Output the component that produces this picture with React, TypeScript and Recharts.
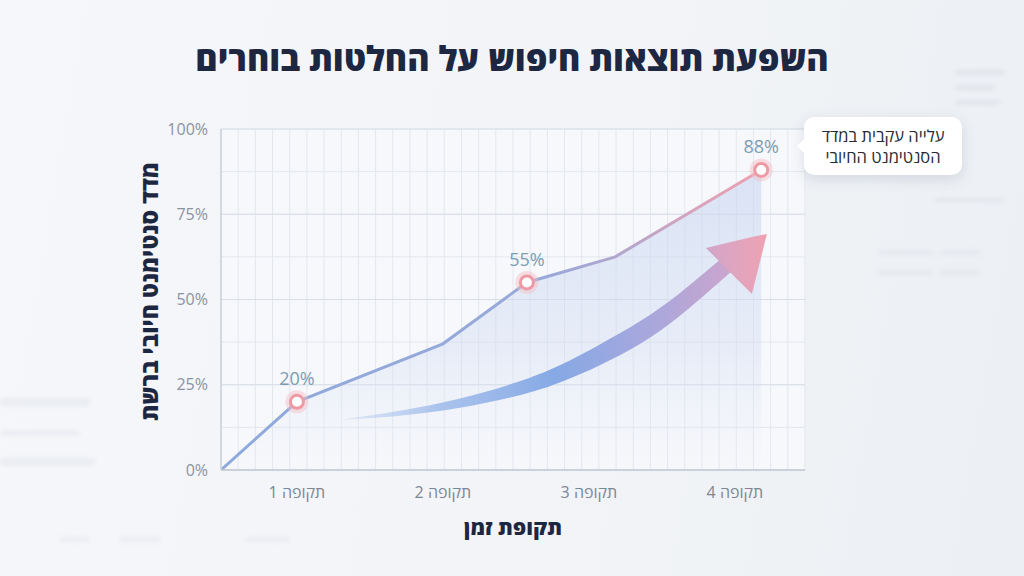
import React from 'react';
import { ComposedChart, Area, Scatter, XAxis, YAxis, CartesianGrid, LabelList, Label } from 'recharts';

// ---- data ----
const periodTicks = [1, 2, 3, 4];
const periodLabels = ['תקופה 1', 'תקופה 2', 'תקופה 3', 'תקופה 4'];
const yTicks = [0, 25, 50, 75, 100];
const minorYTicks = [0, 12.5, 25, 37.5, 50, 62.5, 75, 87.5, 100];

const trendX = [0.48, 1, 2, 2.575, 3.18, 4.18];
const trendY = [0, 20, 37, 55, 62.5, 88];

const highlightX = [1, 2.575, 4.18];
const highlightY = [20, 55, 88];

// decorative trend arrow (in chart units)
const arrowShaftX = [1.295, 1.705, 2.116, 2.527, 2.801, 3.075, 3.349, 3.623, 3.877, 3.973];
const arrowShaftLow = [14.7, 15.7, 18.0, 21.7, 25.4, 30.6, 36.5, 44.9, 54.5, 58.1];
const arrowShaftHigh = [14.7, 17.2, 20.7, 25.8, 30.4, 36.8, 43.3, 51.6, 61.0, 64.2];

const arrowHeadX = [3.801, 4.116, 4.219];
const arrowHeadLow = [65.1, 51.6, 69.2];
const arrowHeadHigh = [65.1, 68.3, 69.2];

const title = 'השפעת תוצאות חיפוש על החלטות בוחרים';
const yLabel = 'מדד סנטימנט חיובי ברשת';
const xLabel = 'תקופת זמן';
const calloutLines = ['עלייה עקבית במדד', 'הסנטימנט החיובי'];

const trendData = trendX.map((x, i) => ({ x, y: trendY[i] }));
const highlightData = highlightX.map((x, i) => ({ x, y: highlightY[i] }));
const shaftData = arrowShaftX.map((x, i) => ({ x, range: [arrowShaftLow[i], arrowShaftHigh[i]] }));
const headData = arrowHeadX.map((x, i) => ({ x, range: [arrowHeadLow[i], arrowHeadHigh[i]] }));

const FONT = '"Open Sans", "Liberation Sans", "DejaVu Sans", sans-serif';

const HighlightDot = (props: any) => {
  const { cx, cy } = props;
  if (cx == null || cy == null) return null;
  return (
    <g>
      <circle cx={cx} cy={cy} r={11.5} fill="#f4bcc4" opacity={0.45} />
      <circle cx={cx} cy={cy} r={6.5} fill="#ffffff" stroke="#ee9aa5" strokeWidth={3} />
    </g>
  );
};

const YAxisTitle = (props: any) => {
  const vb = props.viewBox || {};
  const cx = vb.x + 18;
  const cy = vb.y + vb.height / 2 - 8;
  return (
    <text
      x={cx}
      y={cy}
      transform={`rotate(-90 ${cx} ${cy})`}
      textAnchor="middle"
      dominantBaseline="central"
      fill="#1d2742"
      fontSize={23}
      fontWeight={800}
      fontFamily={FONT}
      direction="rtl"
    >
      {yLabel}
    </text>
  );
};

const XAxisTitle = (props: any) => {
  const vb = props.viewBox || {};
  return (
    <text
      x={vb.x + vb.width / 2}
      y={vb.y + 57}
      textAnchor="middle"
      dominantBaseline="central"
      fill="#1d2742"
      fontSize={21}
      fontWeight={800}
      fontFamily={FONT}
      direction="rtl"
    >
      {xLabel}
    </text>
  );
};

const deco: Array<[number, number, number, number, string]> = [
  [955, 70, 50, 5, '#c9cfdb'],
  [955, 85, 40, 5, '#c9cfdb'],
  [955, 100, 45, 5, '#c9cfdb'],
  [935, 198, 70, 4, '#cdd3de'],
  [878, 250, 55, 5, '#d3d8e2'],
  [940, 250, 40, 5, '#d3d8e2'],
  [878, 270, 55, 5, '#d3d8e2'],
  [940, 270, 40, 5, '#d3d8e2'],
  [0, 398, 90, 8, '#d5dae3'],
  [0, 430, 80, 6, '#d8dce5'],
  [0, 458, 95, 8, '#d5dae3'],
  [60, 537, 30, 5, '#d5dae3'],
  [120, 537, 40, 5, '#d5dae3'],
  [245, 537, 45, 5, '#d8dce5'],
];

export default function App() {
  return (
    <div
      style={{
        position: 'absolute',
        left: 0,
        top: 0,
        width: 1024,
        height: 576,
        overflow: 'hidden',
        background: 'linear-gradient(100deg, #f6f7fa 0%, #f2f4f7 55%, #eceff3 100%)',
        fontFamily: FONT,
      }}
    >
      {deco.map(([x, y, w, h, c], i) => (
        <div
          key={i}
          style={{
            position: 'absolute',
            left: x,
            top: y,
            width: w,
            height: h,
            background: c,
            borderRadius: 3,
            filter: 'blur(2px)',
            opacity: 0.35,
          }}
        />
      ))}
      <div
        style={{
          position: 'absolute',
          left: 0,
          top: 36,
          width: 1024,
          textAlign: 'center',
          fontSize: 34,
          lineHeight: '44px',
          fontWeight: 800,
          color: '#1d2742',
          direction: 'rtl',
        }}
      >
        {title}
      </div>
      <div style={{ position: 'absolute', left: 0, top: 0 }}>
        <ComposedChart width={1024} height={576} margin={{ top: 129, right: 219, bottom: 36, left: 131 }}>
          <defs>
            <linearGradient id="lineGrad" x1="0" y1="0" x2="1" y2="0">
              <stop offset="0" stopColor="#8eaadc" />
              <stop offset="0.6" stopColor="#98a9d9" />
              <stop offset="0.75" stopColor="#b5a6cd" />
              <stop offset="0.88" stopColor="#d8a3bb" />
              <stop offset="1" stopColor="#ee9fac" />
            </linearGradient>
            <linearGradient id="fillGrad" x1="0" y1="0" x2="0" y2="1">
              <stop offset="0" stopColor="#c7d5f0" stopOpacity={0.6} />
              <stop offset="0.6" stopColor="#d3def3" stopOpacity={0.45} />
              <stop offset="1" stopColor="#e6ecf7" stopOpacity={0.05} />
            </linearGradient>
            <linearGradient id="shaftGrad" x1="0" y1="0" x2="1" y2="0">
              <stop offset="0" stopColor="#b9cdef" stopOpacity={0.35} />
              <stop offset="0.25" stopColor="#9ebbea" stopOpacity={0.85} />
              <stop offset="0.55" stopColor="#86a9e5" />
              <stop offset="0.8" stopColor="#a9a7dc" />
              <stop offset="1" stopColor="#cba5cd" />
            </linearGradient>
            <linearGradient id="headGrad" x1="0" y1="0" x2="1" y2="0">
              <stop offset="0" stopColor="#d2a6ca" />
              <stop offset="1" stopColor="#eea2b2" />
            </linearGradient>
          </defs>
          <CartesianGrid
            fill="#f7f8fb"
            stroke="#e3e7ee"
            strokeWidth={1}
            horizontalValues={minorYTicks}
            verticalCoordinatesGenerator={({ offset }: any) =>
              Array.from({ length: 35 }, (_, i) => offset.left + (offset.width * i) / 34)
            }
          />
          <CartesianGrid stroke="#d9dee7" strokeWidth={1} vertical={false} horizontalValues={yTicks} fill="none" />
          <XAxis
            type="number"
            dataKey="x"
            domain={[0.48, 4.48]}
            ticks={periodTicks}
            tickFormatter={(v: number) => periodLabels[periodTicks.indexOf(v)] ?? ''}
            height={70}
            tickSize={0}
            tickMargin={17}
            axisLine={{ stroke: '#c3cad5', strokeWidth: 1.5 }}
            tick={{ fill: '#7d8695', fontSize: 16, fontFamily: FONT }}
            allowDataOverflow
          >
            <Label content={<XAxisTitle />} />
          </XAxis>
          <YAxis
            type="number"
            domain={[0, 100]}
            ticks={yTicks}
            tickFormatter={(v: number) => `${v}%`}
            width={90}
            tickSize={0}
            tickMargin={13}
            axisLine={{ stroke: '#cbd1da', strokeWidth: 1.5 }}
            tick={{ fill: '#8a93a2', fontSize: 16, fontFamily: FONT }}
            allowDataOverflow
          >
            <Label content={<YAxisTitle />} />
          </YAxis>
          <Area
            data={trendData}
            dataKey="y"
            type="linear"
            stroke="url(#lineGrad)"
            strokeWidth={3}
            fill="url(#fillGrad)"
            fillOpacity={1}
            dot={false}
            activeDot={false}
            isAnimationActive={false}
          />
          <Area
            data={shaftData}
            dataKey="range"
            type="basis"
            stroke="none"
            fill="url(#shaftGrad)"
            fillOpacity={1}
            dot={false}
            activeDot={false}
            isAnimationActive={false}
          />
          <Area
            data={headData}
            dataKey="range"
            type="linear"
            stroke="none"
            fill="url(#headGrad)"
            fillOpacity={1}
            dot={false}
            activeDot={false}
            isAnimationActive={false}
          />
          <Scatter data={highlightData} dataKey="y" shape={<HighlightDot />} isAnimationActive={false}>
            <LabelList
              dataKey="y"
              position="top"
              offset={12}
              formatter={(v: any) => `${v}%`}
              fill="#7b9db3"
              fontSize={18}
              fontFamily={FONT}
            />
          </Scatter>
        </ComposedChart>
      </div>
      <div
        style={{
          position: 'absolute',
          left: 804,
          top: 117,
          width: 158,
          height: 58,
          background: '#ffffff',
          borderRadius: 10,
          boxShadow: '0 4px 14px rgba(60, 75, 110, 0.16)',
        }}
      >
        <div
          style={{
            position: 'absolute',
            left: -7,
            top: 21,
            width: 0,
            height: 0,
            borderTop: '8px solid transparent',
            borderBottom: '8px solid transparent',
            borderRight: '8px solid #ffffff',
          }}
        />
        <div
          style={{
            position: 'absolute',
            left: 0,
            top: 8,
            width: 158,
            textAlign: 'center',
            fontSize: 16.5,
            lineHeight: '21px',
            color: '#262b36',
            direction: 'rtl',
          }}
        >
          {calloutLines.map((l, i) => (
            <div key={i}>{l}</div>
          ))}
        </div>
      </div>
    </div>
  );
}
